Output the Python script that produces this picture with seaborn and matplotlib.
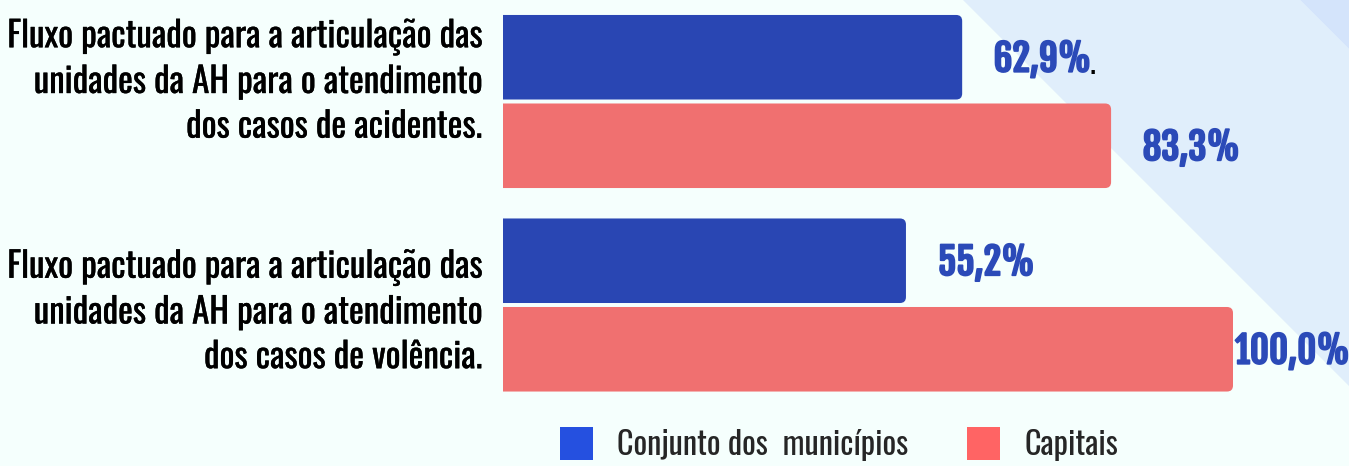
import matplotlib
matplotlib.use("Agg")
import matplotlib.pyplot as plt
import seaborn as sns
import pandas as pd
from matplotlib.patches import FancyBboxPatch, Polygon, Patch
from matplotlib import font_manager as fm
import matplotlib.transforms as mtransforms
import matplotlib.patheffects as pe

# ---------------- data ----------------
categories = [
    "Fluxo pactuado para a articulação das\nunidades da AH para o atendimento\ndos casos de acidentes.",
    "Fluxo pactuado para a articulação das\nunidades da AH para o atendimento\ndos casos de volência.",
]
groups = ["Conjunto dos  municípios", "Capitais"]
values_municipios = [62.9, 55.2]
values_capitais = [83.3, 100.0]
label_suffix_black = [".", ""]  # trailing black punctuation after the blue value label (municipios)

# ---------------- style ----------------
W, H, DPI = 1349, 466, 100
BG = "#F5FFFD"
BAND1 = "#E0EEFB"
BAND2 = "#D4E4FB"
BAR_COLORS = ["#2946B3", "#F07070"]
LEG_COLORS = ["#2550E0", "#FF6464"]
LABEL_COLOR = "#2B4AB8"

sns.set_theme(style="white")
names = {f.name for f in fm.fontManager.ttflist}
FAMILY = [n for n in ["Oswald", "Roboto Condensed"] if n in names] + ["DejaVu Sans"]
BOLD_FAMILY = [n for n in ["Fjalla One", "Roboto Condensed"] if n in names] + ["DejaVu Sans"]
plt.rcParams["font.family"] = FAMILY

fig = plt.figure(figsize=(W / DPI, H / DPI), dpi=DPI)
fig.patch.set_facecolor(BG)

def px(x, y):
    return (x / W, 1 - y / H)

fig.add_artist(Polygon([px(963, 0), px(1300, 0), px(1349, 49), px(1349, 386)],
                       closed=True, transform=fig.transFigure, facecolor=BAND1,
                       edgecolor="none", zorder=0))
fig.add_artist(Polygon([px(1300, 0), px(1349, 0), px(1349, 49)],
                       closed=True, transform=fig.transFigure, facecolor=BAND2,
                       edgecolor="none", zorder=0))

# axes geometry (pixels)
AX_L = 503
PX_PER_UNIT_X = 7.3
PX_PER_CAT = 203.5
CAT0_Y = 101.5
AX_TOP, AX_BOT = 0, 406.5
ax = fig.add_axes([AX_L / W, (H - AX_BOT) / H, (W - AX_L) / W, (AX_BOT - AX_TOP) / H])
ax.set_facecolor("none")

df = pd.DataFrame({
    "categoria": categories * 2,
    "grupo": [groups[0]] * 2 + [groups[1]] * 2,
    "valor": values_municipios + values_capitais,
})
sns.barplot(data=df, y="categoria", x="valor", hue="grupo", palette=BAR_COLORS,
            saturation=1, orient="h", width=0.87, gap=0.045, legend=False, ax=ax)

ax.set_xlim(0, (W - AX_L) / PX_PER_UNIT_X)
ax.set_ylim((AX_BOT - CAT0_Y) / PX_PER_CAT, (AX_TOP - CAT0_Y) / PX_PER_CAT)
for s in ax.spines.values():
    s.set_visible(False)
ax.set_xticks([])
ax.set_yticks([])
ax.set_xlabel("")
ax.set_ylabel("")

# rounded bars (right corners rounded, left edge clipped)
r_px = 6
aspect = PX_PER_UNIT_X / PX_PER_CAT
bars = list(ax.patches)
for p in bars:
    x0, y0 = p.get_x(), p.get_y()
    w, h = p.get_width(), p.get_height()
    ext = 3
    fb = FancyBboxPatch((x0 - ext, y0), w + ext, h,
                        boxstyle=f"round,pad=0,rounding_size={r_px / PX_PER_UNIT_X}",
                        mutation_aspect=aspect, facecolor=p.get_facecolor(),
                        edgecolor="none", clip_on=True, zorder=2)
    ax.add_patch(fb)
    p.set_visible(False)

# value labels
def fmt(v):
    return f"{v:.1f}".replace(".", ",") + "%"

LABEL_FS = 26.5
center_off = 11.0
xmax = (W - AX_L) / PX_PER_UNIT_X
bold_fx = [pe.withStroke(linewidth=1.3, foreground=LABEL_COLOR)]
for gi, vals in enumerate([values_municipios, values_capitais]):
    for ci, v in enumerate(vals):
        yc = ci + (gi - 0.5) * 0.87 / 2
        if v + center_off + 6 < xmax:
            t = ax.annotate(fmt(v), xy=(v + center_off, yc), xytext=(0, -2),
                            textcoords="offset pixels", ha="center", va="center",
                            fontsize=LABEL_FS, family=BOLD_FAMILY, color=LABEL_COLOR,
                            zorder=3, path_effects=bold_fx, annotation_clip=False)
        else:
            t = ax.annotate(fmt(v), xy=(v, yc), xytext=(2, -2), textcoords="offset pixels",
                            ha="left", va="center", fontsize=LABEL_FS, family=BOLD_FAMILY,
                            color=LABEL_COLOR, zorder=3, path_effects=bold_fx,
                            annotation_clip=False)
        if gi == 0 and label_suffix_black[ci]:
            ax.annotate(label_suffix_black[ci], xy=(1, 0), xycoords=t, xytext=(-2, 0),
                        textcoords="offset pixels", ha="left", va="bottom",
                        fontsize=LABEL_FS * 0.85, color="black", zorder=3)

# category labels
CAT_FS = 25.3
cat_offsets_px = [20, -7]
blend = mtransforms.blended_transform_factory(ax.transAxes, ax.transData)
for ci, c in enumerate(categories):
    ax.annotate(c, xy=(0, ci), xycoords=blend, xytext=(-21, cat_offsets_px[ci]),
                textcoords="offset pixels", ha="right", va="center", fontsize=CAT_FS,
                color="black", linespacing=1.3, annotation_clip=False,
                path_effects=[pe.withStroke(linewidth=0.2, foreground="black")])

# legend
LEG_FS = 23.2
handles = [Patch(facecolor=LEG_COLORS[i], edgecolor="none", label=groups[i]) for i in range(2)]
fig.legend(handles=handles, loc="center", bbox_to_anchor=(839 / W, 1 - 444 / H), ncol=2,
           frameon=False, fontsize=LEG_FS, handlelength=1.03, handleheight=1.19,
           handletextpad=0.75, columnspacing=1.8, borderaxespad=0)

fig.savefig("out.png", dpi=DPI, facecolor=BG)
